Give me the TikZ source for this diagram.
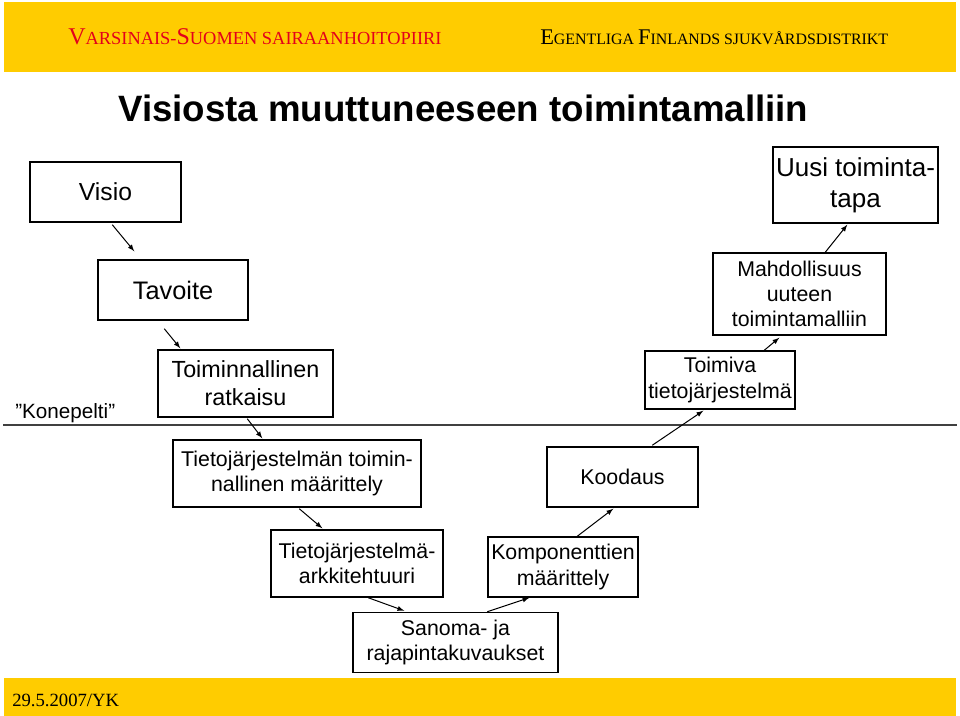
\documentclass[tikz,border=0pt]{standalone}
\usepackage{fontspec}
\setmainfont{Liberation Sans}
\newfontfamily\timesfont{Liberation Serif}
\usetikzlibrary{arrows}
\usetikzlibrary{calc}

\definecolor{kaistankeltainen}{HTML}{FFCC00}
\definecolor{otsikonpunainen}{HTML}{E3001B}
\newcommand{\pix}{0.75pt}
\newcommand{\initcap}[1]{{\fontsize{18pt}{20pt}\selectfont #1}}
\newcommand{\pieniinitcap}[1]{{\fontsize{16.8pt}{19pt}\selectfont #1}}

\begin{document}
\begin{tikzpicture}[x=0.75pt,y=-0.75pt]
\tikzstyle{laatikko}=[
        draw,
        rectangle,
        line width=1.1pt,
        fill=white,
        inner sep=0pt,
        align=center,
        font={\fontsize{16pt}{19pt}\selectfont}
]
\tikzstyle{teksti}=[anchor=base west,inner sep=0pt]
%nuolten tyyli
\tikzstyle{nuoli}=[->,>=latex,line width=0.75pt]
%tausta ja kaistat
\useasboundingbox[fill=white] (0,0) rectangle (960,716);
\fill[kaistankeltainen] (4,2) rectangle (956,72);
\fill[kaistankeltainen] (4,678) rectangle (956,716);
\node[teksti,text=otsikonpunainen,font={\timesfont\fontsize{13.8pt}{16pt}\selectfont}] (vsshp) at (68,45)
  {\initcap{V}ARSINAIS-\initcap{S}UOMEN SAIRAANHOITOPIIRI};
\node[teksti,font={\timesfont\fontsize{11.9pt}{14pt}\selectfont}] (efsd) at (540,45)
  {\pieniinitcap{E}GENTLIGA \pieniinitcap{F}INLANDS SJUKVÅRDSDISTRIKT};
\node[teksti,font={\timesfont\fontsize{14pt}{16pt}\selectfont}] (pvm) at (12,706) {29.5.2007/YK};
\node[teksti,font={\bfseries\fontsize{27.5pt}{32pt}\selectfont}] (otsikko) at (118,122)
  {Visiosta muuttuneeseen toimintamalliin};
%konepelti
\draw[line width=1.1pt,black!75] (3,425) -- (957,425);
\node[teksti,font={\fontsize{15.5pt}{18pt}\selectfont}] (konepelti) at (15,418) {"Konepelti”};
%laatikot
\node[laatikko,minimum width=151*\pix,minimum height=60*\pix,font={\fontsize{18.5pt}{21pt}\selectfont}] (visio) at (105.5,192) {Visio};
\node[laatikko,minimum width=150*\pix,minimum height=60*\pix,font={\fontsize{19pt}{22pt}\selectfont}] (tavoite) at (173,290) {Tavoite};
\node[laatikko,minimum width=175*\pix,minimum height=67*\pix,font={\fontsize{17.5pt}{21pt}\selectfont}] (ratkaisu) at (245.5,383.5) {Toiminnallinen\\ratkaisu};
\node[laatikko,minimum width=248*\pix,minimum height=67*\pix] (maarittely) at (297,473.5) {Tietojärjestelmän toimin-\\nallinen määrittely};
\node[laatikko,minimum width=172*\pix,minimum height=67*\pix] (arkkitehtuuri) at (357,563.5) {Tietojärjestelmä-\\arkkitehtuuri};
\node[laatikko,minimum width=205*\pix,minimum height=60*\pix] (sanoma) at (455.5,642.5) {Sanoma- ja\\rajapintakuvaukset};
\node[laatikko,minimum width=150*\pix,minimum height=60*\pix] (komponentit) at (563,567) {Komponenttien\\määrittely};
\node[laatikko,minimum width=151*\pix,minimum height=60*\pix] (koodaus) at (622.5,477) {Koodaus};
\node[laatikko,minimum width=150*\pix,minimum height=58*\pix] (toimiva) at (720,380) {Toimiva\\tietojärjestelmä};
\node[laatikko,minimum width=173*\pix,minimum height=82*\pix] (mahdollisuus) at (799.5,294) {Mahdollisuus\\uuteen\\toimintamalliin};
\node[laatikko,minimum width=165*\pix,minimum height=76*\pix,font={\fontsize{19.5pt}{23pt}\selectfont}] (uusi) at (855.5,185) {Uusi toiminta-\\tapa};
%nuolet
\draw[nuoli] ([shift={(83,2)}]visio.south west) -- ([shift={(37,-8)}]tavoite.north west);
\draw[nuoli] ([shift={(67,8)}]tavoite.south west) -- ([shift={(23,-1)}]ratkaisu.north west);
\draw[nuoli] ([shift={(90,1)}]ratkaisu.south west) -- ([shift={(90,-1)}]maarittely.north west);
\draw[nuoli] ([shift={(127,1)}]maarittely.south west) -- ([shift={(52,-1)}]arkkitehtuuri.north west);
\draw[nuoli] ([shift={(98,0)}]arkkitehtuuri.south west) -- ([shift={(52,-1)}]sanoma.north west);
\draw[nuoli] ([shift={(135,0)}]sanoma.north west) -- ([shift={(42,0)}]komponentit.south west);
\draw[nuoli] ([shift={(90,0)}]komponentit.north west) -- ([shift={(67,1)}]koodaus.south west);
\draw[nuoli] ([shift={(106,-1)}]koodaus.north west) -- ([shift={(59,1)}]toimiva.south west);
\draw[nuoli] ([shift={(120,0)}]toimiva.north west) -- ([shift={(67,2)}]mahdollisuus.south west);
\draw[nuoli] ([shift={(113,0)}]mahdollisuus.north west) -- ([shift={(75,1)}]uusi.south west);
\end{tikzpicture}
\end{document}
